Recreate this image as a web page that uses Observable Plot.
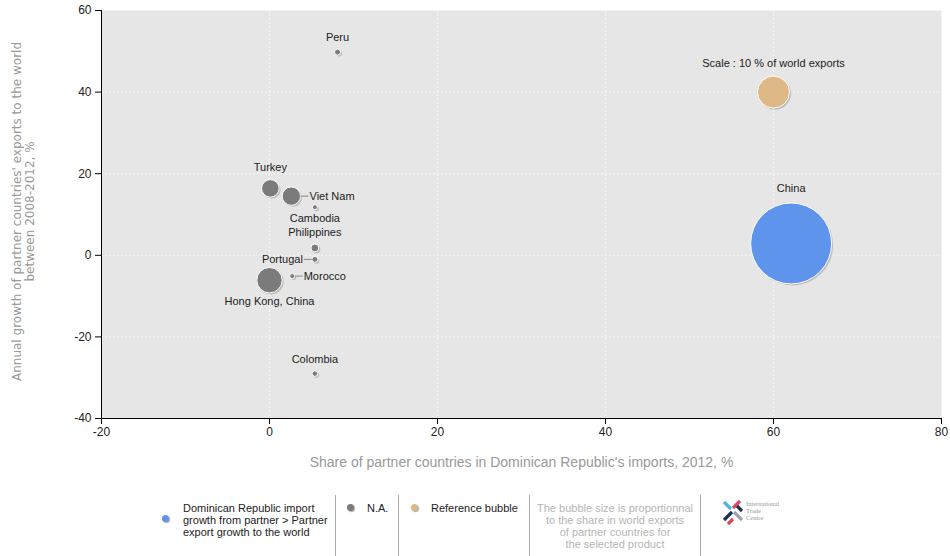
<!DOCTYPE html>
<html><head><meta charset="utf-8">
<script src="https://cdn.jsdelivr.net/npm/d3@7"></script>
<script src="https://cdn.jsdelivr.net/npm/@observablehq/plot@0.6"></script>
<style>
body{margin:0;background:#fff;font-family:"Liberation Sans",Arial,sans-serif;}
#chart svg{display:block;}
#legend{position:relative;width:950px;height:74px;font-size:11px;color:#222;line-height:12px;}
#legend .sep{position:absolute;top:13px;width:1px;height:61px;background:#aaa;}
#legend .dot{position:absolute;width:7px;height:7px;border-radius:50%;box-shadow:1px 1px 1px #aaa;}
#legend .txt{position:absolute;white-space:nowrap;}
</style></head><body>
<div id="chart"></div>
<div id="legend">
  <div class="dot" style="left:162px;top:33px;background:#5f94ec"></div>
  <div class="txt" style="left:183px;top:20px">Dominican Republic import<br>growth from partner &gt; Partner<br>export growth to the world</div>
  <div class="sep" style="left:335px"></div>
  <div class="dot" style="left:347px;top:22px;background:#7b7b7b"></div>
  <div class="txt" style="left:367px;top:20px">N.A.</div>
  <div class="sep" style="left:398px"></div>
  <div class="dot" style="left:411px;top:22px;background:#deb887"></div>
  <div class="txt" style="left:431px;top:20px">Reference bubble</div>
  <div class="sep" style="left:529px"></div>
  <div class="txt" style="left:530px;width:170px;top:20px;text-align:center;color:#b5b5b5">The bubble size is proportionnal<br>to the share in world exports<br>of partner countries for<br>the selected product</div>
  <div class="sep" style="left:700px"></div>
  <svg style="position:absolute;left:720px;top:16px" width="72" height="30">
    <g stroke-width="3.2" stroke-linecap="butt">
      <line x1="4" y1="4" x2="11" y2="11" stroke="#4fb3e3"/>
      <line x1="20" y1="3" x2="13" y2="10" stroke="#e0455f"/>
      <line x1="12" y1="14" x2="4" y2="22" stroke="#1f2f55"/>
      <line x1="14" y1="14" x2="22" y2="22" stroke="#9aa3b5"/>
      <line x1="8" y1="26" x2="13" y2="21" stroke="#e0455f"/>
      <line x1="17" y1="8" x2="22" y2="13" stroke="#1f2f55"/>
    </g>
    <text x="26" y="8" font-size="6.5" fill="#999" font-family="Liberation Serif">International</text>
    <text x="26" y="15" font-size="6.5" fill="#999" font-family="Liberation Serif">Trade</text>
    <text x="26" y="22" font-size="6.5" fill="#999" font-family="Liberation Serif">Centre</text>
  </svg>
</div>
<script>
// ---- data ----
const countries = ["Peru","Turkey","Viet Nam","Cambodia","Philippines","Portugal","Morocco","Hong Kong, China","Colombia","China"];
const importShare = [8.1, 0.1, 2.6, 5.4, 5.4, 5.4, 2.7, 0.0, 5.4, 62.1];      // x, %
const exportGrowth = [49.8, 16.4, 14.5, 11.8, 1.8, -1.0, -5.1, -6.1, -29.0, 2.9]; // y, %
const worldExportShare = [0.35, 3.0, 3.3, 0.25, 0.6, 0.35, 0.25, 6.3, 0.3, 64];   // bubble size, %
const category = ["na","na","na","na","na","na","na","na","na","higher"];
const refLabel = ["Scale : 10 % of world exports"];
const refX = [60];
const refY = [40];
const refSize = [10];
const xTicks = [-20, 0, 20, 40, 60, 80];
const yTicks = [-40, -20, 0, 20, 40, 60];
const xTitle = "Share of partner countries in Dominican Republic's imports, 2012, %";
const yTitle = "Annual growth of partner countries' exports to the world\nbetween 2008-2012, %";

// ---- layout (label placement) ----
const labelPlace = ["above","above","right","below","above","left","right","below","above","above"];

const colors = {na: "#7b7b7b", higher: "#5f94ec", ref: "#deb887"};
const rMax = 50.6; // px radius for 100 %
const rpx = v => rMax * Math.sqrt(v / 100);

const points = countries.map((c, i) => ({
  name: c, x: importShare[i], y: exportGrowth[i], s: worldExportShare[i],
  cat: category[i], place: labelPlace[i]
}));
const refs = refLabel.map((l, i) => ({name: l, x: refX[i], y: refY[i], s: refSize[i], cat: "ref", place: "above"}));
const all = [...points, ...refs];

const rScale = {type: "sqrt", domain: [0, 100], range: [0, rMax]};

function leader(a, b) {
  return {draw(ctx) { ctx.moveTo(a, 0); ctx.lineTo(b, 0); }};
}

const labelMarks = all.map(d => {
  const r = rpx(d.s);
  let opts = {x: "x", y: "y", text: "name", fontSize: 11, fill: "#222"};
  const marks = [];
  if (d.place === "above") opts = {...opts, dy: -(r * 1.08 + 11)};
  else if (d.place === "below") opts = {...opts, dy: r + 9};
  else if (d.place === "right") {
    opts = {...opts, dx: r + 9, textAnchor: "start"};
    marks.push(Plot.dot([d], {x: "x", y: "y", r: 1, symbol: leader(r, r + 8), stroke: "#888", strokeWidth: 1, fill: "none"}));
  } else if (d.place === "left") {
    opts = {...opts, dx: -(r + 9), textAnchor: "end"};
    marks.push(Plot.dot([d], {x: "x", y: "y", r: 1, symbol: leader(-r, -(r + 8)), stroke: "#888", strokeWidth: 1, fill: "none"}));
  }
  marks.push(Plot.text([d], opts));
  return marks;
}).flat();

const fmt = d => String(d);

const chart = Plot.plot({
  width: 950,
  height: 482,
  marginLeft: 101,
  marginRight: 9,
  marginTop: 10,
  marginBottom: 64,
  style: {fontFamily: "'Liberation Sans', Arial, sans-serif", background: "#fff"},
  x: {domain: [-20, 80]},
  y: {domain: [-40, 60]},
  r: rScale,
  marks: [
    Plot.frame({fill: "#e6e6e6", stroke: null}),
    Plot.gridX(xTicks.slice(1, -1), {stroke: "#f6f6f6", strokeOpacity: 1, strokeDasharray: "2,2"}),
    Plot.gridY(yTicks.slice(1, -1), {stroke: "#f6f6f6", strokeOpacity: 1, strokeDasharray: "2,2"}),
    Plot.ruleY([-40], {stroke: "#000"}),
    Plot.ruleX([-20], {stroke: "#000"}),
    Plot.axisX(xTicks, {tickSize: 6, tickPadding: 3, fontSize: 12, fill: "#222", stroke: "#000", label: null, tickFormat: fmt}),
    Plot.axisY(yTicks, {tickSize: 6, tickPadding: 4, fontSize: 12, fill: "#222", stroke: "#000", label: null, tickFormat: fmt}),
    Plot.text([xTitle], {frameAnchor: "bottom", dy: 48, fontSize: 14, fill: "#999"}),
    Plot.text([yTitle], {frameAnchor: "left", textAnchor: "middle", lineAnchor: "middle", dx: -78, dy: -3, rotate: -90, fontSize: 12, fill: "#999", lineHeight: 1.1, fontFamily: "DejaVu Sans"}),
    // shadows
    Plot.dot(all, {x: "x", y: "y", r: "s", fill: "#9a9a9a", fillOpacity: 0.55, dx: 1.5, dy: 1.5}),
    // bubbles
    Plot.dot(all, {x: "x", y: "y", r: "s", fill: d => colors[d.cat], stroke: "#fff", strokeWidth: 1}),
    ...labelMarks
  ]
});
document.getElementById("chart").append(chart);
</script>
</body></html>
